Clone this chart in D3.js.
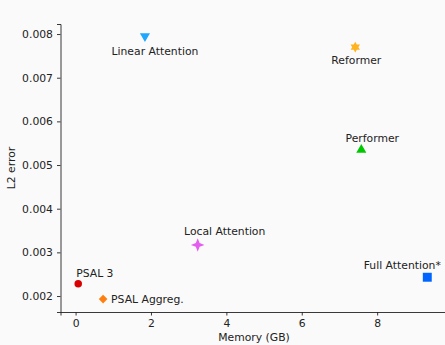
<!DOCTYPE html>
<html><head><meta charset="utf-8">
<script src="https://cdn.jsdelivr.net/npm/d3@7"></script>
<style>body{margin:0;background:#fafafa;} svg{display:block;}</style>
</head><body>
<script>
const names = ["Linear Attention","Reformer","Performer","Local Attention","PSAL 3","PSAL Aggreg.","Full Attention*"];
const memory = [1.84, 7.42, 7.58, 3.24, 0.07, 0.73, 9.33];
const l2error = [0.00795, 0.0077, 0.00535, 0.00317, 0.00228, 0.00193, 0.00243];
const colors = ["#1ea7fd","#ffb31f","#00c800","#e55cf0","#d90000","#ff7f0e","#0064ff"];
const xTicks = [0,2,4,6,8];
const yTicks = [0.002,0.003,0.004,0.005,0.006,0.007,0.008];

const W=445,H=345;
const svg=d3.select("body").append("svg").attr("width",W).attr("height",H).style("background","#fafafa");
const font="DejaVu Sans";
const x=d3.scaleLinear().domain([-0.4,9.8]).range([60.5,445]);
const y=d3.scaleLinear().domain([0.001634,0.00823]).range([312,24]);

const g=svg.append("g").attr("font-family",font);
const xa=g.append("g").attr("transform","translate(0,312)").call(d3.axisBottom(x).tickValues(xTicks).tickFormat(d3.format("d")).tickSize(3.5).tickPadding(4));
const ya=g.append("g").attr("transform","translate(60.5,0)").call(d3.axisLeft(y).tickValues(yTicks).tickFormat(d3.format(".3f")).tickSize(3.5).tickPadding(4));
[xa,ya].forEach(a=>{a.selectAll("text").attr("font-size","10.8px").attr("fill","#222").attr("font-family",font);
 a.selectAll("line").attr("stroke","#222").attr("stroke-width",0.9);
 a.select(".domain").attr("stroke","#222").attr("stroke-width",0.9);});

g.append("text").attr("x",254).attr("y",341).attr("text-anchor","middle").attr("font-size","10.8px").attr("fill","#222").text("Memory (GB)");
g.append("text").attr("transform","translate(15,168) rotate(-90)").attr("text-anchor","middle").attr("font-size","10.8px").attr("fill","#222").text("L2 error");

function star(n,R,r){let p=[];for(let i=0;i<2*n;i++){const a=Math.PI*i/n - Math.PI/2;const rr=i%2?r:R;p.push([rr*Math.cos(a),rr*Math.sin(a)]);}return "M"+p.map(d=>d.join(",")).join("L")+"Z";}
const shapes=[
 ()=>d3.symbol().type(d3.symbolTriangle).size(44)(),
 ()=>star(6,5.4,3.1),
 ()=>d3.symbol().type(d3.symbolTriangle).size(44)(),
 ()=>star(4,6.8,2.7),
 ()=>d3.symbol().type(d3.symbolCircle).size(44)(),
 ()=>star(2,4.3,4.3/Math.SQRT2*Math.SQRT2)&&"M0,-4.3L4.3,0L0,4.3L-4.3,0Z",
 ()=>d3.symbol().type(d3.symbolSquare).size(80)()
];
const rot=[180,0,0,0,0,0,0];
names.forEach((n,i)=>{
  g.append("path").attr("d",shapes[i]()).attr("fill",colors[i])
   .attr("transform",`translate(${x(memory[i])},${y(l2error[i])}) rotate(${rot[i]})`);
});

const lab=[[10,19,"middle"],[1,17,"middle"],[11,-8,"middle"],[27,-10,"middle"],[-2,-7,"start"],[8,4,"start"],[-25,-8,"middle"]];
names.forEach((n,i)=>{
  g.append("text").attr("x",x(memory[i])+lab[i][0]).attr("y",y(l2error[i])+lab[i][1])
   .attr("text-anchor",lab[i][2]).attr("font-size","10.8px").attr("fill","#222").text(n);
});
</script>
</body></html>
